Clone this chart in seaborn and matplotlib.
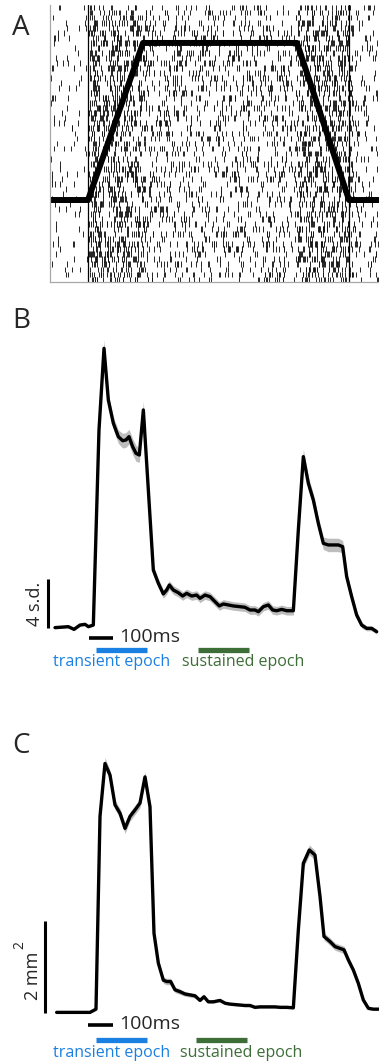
import numpy as np
import matplotlib
matplotlib.use("Agg")
import matplotlib.pyplot as plt
import seaborn as sns

# ---------------- data ----------------
# Panel B: normalized population response (s.d.) vs time (ms from motion onset)
b_time = [-137.5, -81.9, -58.3, -33.3, -12.5, 1.4, 22.2, 45.8, 66.7, 84.7,
          105.6, 126.4, 144.4, 158.3, 170.8, 186.1, 200.0, 213.9, 230.6, 251.4,
          272.2, 293.1, 313.9, 327.8, 338.9, 355.6, 376.4, 394.4, 411.1, 431.9,
          452.8, 466.7, 487.5, 508.3, 529.2, 547.2, 563.9, 584.7, 605.6, 633.3,
          654.2, 675.0, 695.8, 709.7, 730.6, 751.4, 769.4, 786.1, 806.9, 827.8,
          855.6, 876.4, 897.2, 918.1, 938.9, 959.7, 980.6, 1001.4, 1022.2, 1043.1,
          1061.1, 1077.8, 1098.6, 1119.4, 1140.3, 1161.1, 1181.9, 1202.8]
b_mean = [0.03, 0.11, -0.11, 0.24, 0.30, 0.11, 0.24, 16.16, 22.83, 18.61,
          16.71, 15.62, 15.29, 15.35, 15.62, 14.80, 14.26, 14.12, 17.80, 11.27,
          4.73, 3.65, 2.78, 3.10, 3.51, 3.10, 2.88, 2.61, 2.83, 2.61,
          2.69, 2.42, 2.69, 2.56, 2.15, 1.80, 1.96, 1.88, 1.80, 1.74,
          1.69, 1.47, 1.47, 1.33, 1.74, 1.88, 1.47, 1.41, 1.52, 1.41,
          1.41, 8.00, 13.99, 11.81, 10.45, 8.54, 6.91, 6.78, 6.78, 6.78,
          6.64, 4.19, 2.56, 1.06, 0.24, -0.03, -0.03, -0.30]
b_sem = [0.1, 0.1, 0.1, 0.1, 0.1, 0.1, 0.1, 0.5, 0.7, 0.5,
         0.5, 0.55, 0.6, 0.6, 0.6, 0.65, 0.65, 0.6, 0.7, 0.5,
         0.4, 0.35, 0.35, 0.35, 0.35, 0.35, 0.35, 0.35, 0.35, 0.35,
         0.35, 0.35, 0.35, 0.35, 0.35, 0.35, 0.35, 0.35, 0.35, 0.35,
         0.35, 0.35, 0.35, 0.35, 0.35, 0.35, 0.35, 0.35, 0.35, 0.35,
         0.35, 0.45, 0.6, 0.55, 0.5, 0.5, 0.5, 0.55, 0.55, 0.55,
         0.5, 0.4, 0.35, 0.3, 0.25, 0.2, 0.2, 0.2]

# Panel C: response area (mm^2) vs time (ms)
c_time = [-130.6, 8.3, 33.3, 50.0, 70.8, 91.7, 112.5, 133.3, 154.2, 175.0,
          195.8, 216.7, 237.5, 258.3, 275.0, 293.1, 313.9, 327.8, 344.4, 362.5,
          383.3, 404.2, 425.0, 445.8, 466.7, 483.3, 501.4, 522.2, 550.0, 570.8,
          591.7, 612.5, 633.3, 654.2, 675.0, 695.8, 716.7, 737.5, 758.3, 779.2,
          800.0, 827.8, 855.6, 876.4, 897.2, 922.2, 945.8, 966.7, 983.3, 1008.3,
          1029.2, 1050.0, 1066.7, 1084.7, 1105.6, 1126.4, 1147.2, 1168.1, 1188.9, 1212.5]
c_mean = [0.02, 0.02, 0.09, 4.28, 5.43, 5.18, 4.53, 4.35, 4.02, 4.28,
          4.42, 4.57, 5.14, 4.49, 1.74, 1.09, 0.72, 0.69, 0.69, 0.51,
          0.47, 0.42, 0.40, 0.38, 0.28, 0.36, 0.25, 0.25, 0.28, 0.22,
          0.20, 0.19, 0.18, 0.17, 0.17, 0.13, 0.14, 0.14, 0.14, 0.14,
          0.13, 0.13, 0.12, 1.81, 3.26, 3.55, 3.44, 2.54, 1.67, 1.56,
          1.45, 1.41, 1.38, 1.16, 0.94, 0.65, 0.29, 0.11, 0.09, 0.09]
c_sem = [0.02, 0.02, 0.02, 0.10, 0.13, 0.10, 0.10, 0.10, 0.11, 0.10,
         0.10, 0.10, 0.11, 0.10, 0.07, 0.07, 0.07, 0.07, 0.07, 0.06,
         0.06, 0.05, 0.05, 0.05, 0.03, 0.03, 0.03, 0.03, 0.03, 0.03,
         0.03, 0.03, 0.03, 0.03, 0.03, 0.03, 0.03, 0.03, 0.03, 0.03,
         0.03, 0.03, 0.03, 0.08, 0.10, 0.11, 0.10, 0.09, 0.08, 0.08,
         0.08, 0.08, 0.08, 0.08, 0.07, 0.07, 0.06, 0.04, 0.03, 0.02]

# Panel A: stimulus profile and spike-density profile of the raster
stim_time = [-158.3, 0.0, 229.2, 870.8, 1087.5, 1212.5]
stim_level = [0, 0, 1, 1, 0, 0]
event_times = [0.0, 1087.5]
rate_time = [-158.3, 0.0, 8.0, 230.0, 250.0, 600.0, 870.0, 885.0, 1090.0, 1110.0, 1212.5]
rate_hz = [10, 10, 88, 80, 44, 38, 40, 88, 88, 30, 30]
n_trials = 55

transient_epoch = (33, 246)
sustained_epoch_b = (458, 671)
sustained_epoch_c = (450, 662)
scale_ms = 100
scale_sd = 4
scale_mm2 = 2

# ---------------- style ----------------
sns.set_theme(style="white")
plt.rcParams["font.family"] = ["Open Sans", "DejaVu Sans"]

W, H = 379, 1063
fig = plt.figure(figsize=(W / 100, H / 100), dpi=100)
fig.patch.set_facecolor("white")


def ax_px(x0, y0, x1, y1):
    return fig.add_axes([x0 / W, 1 - y1 / H, (x1 - x0) / W, (y1 - y0) / H])


PXMS = 0.24      # pixels per ms
T0PX = 88        # pixel of t = 0
XLIM = (-T0PX / PXMS, (W - T0PX) / PXMS)

BLUE = "#1a80e2"
GREEN = "#3d6e37"
BAND = "#bdbdbd"

# ---------------- Panel A ----------------
axA = ax_px(50, 5, 379, 282)
xa0 = (50 - T0PX) / PXMS
axA.set_xlim(xa0, XLIM[1])
axA.set_ylim(0, n_trials)

# spike positions: deterministic quantile placement along the read density profile
tg = np.linspace(xa0, XLIM[1], 4000)
rate = np.interp(tg, rate_time, rate_hz)
cum = np.concatenate([[0.0], np.cumsum((rate[1:] + rate[:-1]) / 2 * np.diff(tg) / 1000.0)])
trains = []
k = np.arange(600)
for i in range(n_trials):
    u = np.mod(k * k * 0.6180339887 + k * (i * 0.4142135624 + 0.31) + i * 0.7548776662, 1.0)
    iv = -np.log(1 - 0.995 * u)
    iv = iv / iv.mean()
    pos = np.cumsum(iv) - iv[0] * np.mod(i * 0.5698402910, 1.0)
    pos = pos[pos < cum[-1]]
    trains.append(np.interp(pos, cum, tg))
axA.eventplot(trains, lineoffsets=np.arange(n_trials) + 0.5, linelengths=1.15,
              linewidths=0.65, colors="#151515")
for et in event_times:
    axA.axvline(et, color="black", lw=0.9)
low, high = 0.296 * n_trials, 0.863 * n_trials
sns.lineplot(x=stim_time, y=[low + s * (high - low) for s in stim_level], ax=axA,
             color="black", lw=4.3, estimator=None)
axA.set_xticks([])
axA.set_yticks([])
for s in ["top", "right"]:
    axA.spines[s].set_visible(False)
for s in ["left", "bottom"]:
    axA.spines[s].set_color("#a8a8a8")
    axA.spines[s].set_linewidth(0.9)

# ---------------- Panel B ----------------
axB = ax_px(0, 290, 379, 680)
axB.set_xlim(*XLIM)
axB.set_ylim((628 - 680) / 49 * 4, (628 - 290) / 49 * 4)
bm, bs = np.array(b_mean), np.array(b_sem)
axB.fill_between(b_time, bm - bs, bm + bs, color=BAND, lw=0, zorder=1)
sns.lineplot(x=b_time, y=b_mean, ax=axB, color="black", lw=2.4, estimator=None, zorder=2)
axB.axis("off")
ypx_b = lambda y: (628 - y) / 49 * 4
axB.plot([-166.7, -166.7], [0, scale_sd], color="black", lw=2.2, clip_on=False,
         solid_capstyle="butt")
axB.text(-221, scale_sd / 2, "4 s.d.", rotation=90, ha="center", va="center", fontsize=13)
axB.plot([4, 4 + scale_ms], [ypx_b(638)] * 2, color="black", lw=2.6, solid_capstyle="butt")
axB.text(129, ypx_b(637), "100ms", ha="left", va="center", fontsize=14)
axB.plot(transient_epoch, [ypx_b(650)] * 2, color=BLUE, lw=3.8, solid_capstyle="butt")
axB.plot(sustained_epoch_b, [ypx_b(650)] * 2, color=GREEN, lw=3.8, solid_capstyle="butt")
axB.text(-145.8, ypx_b(662), "transient epoch", color=BLUE, ha="left", va="center", fontsize=11.5)
axB.text(391.7, ypx_b(662), "sustained epoch", color=GREEN, ha="left", va="center", fontsize=11.5)

# ---------------- Panel C ----------------
axC = ax_px(0, 680, 379, 1063)
axC.set_xlim(*XLIM)
ypx_c = lambda y: (1013.3 - y) / 46.0
axC.set_ylim(ypx_c(1063), ypx_c(680))
cm_, cs = np.array(c_mean), np.array(c_sem)
axC.fill_between(c_time, cm_ - cs, cm_ + cs, color=BAND, lw=0, zorder=1)
sns.lineplot(x=c_time, y=c_mean, ax=axC, color="black", lw=2.4, estimator=None, zorder=2)
axC.axis("off")
axC.plot([-179, -179], [0, scale_mm2], color="black", lw=2.2, clip_on=False,
         solid_capstyle="butt")
axC.text(-229, ypx_c(976), "2 mm", rotation=90, ha="center", va="center", fontsize=13)
axC.text(-283, ypx_c(945), "2", rotation=90, ha="center", va="center", fontsize=10)
axC.plot([0, scale_ms + 4], [ypx_c(1025)] * 2, color="black", lw=2.6, solid_capstyle="butt")
axC.text(129, ypx_c(1024), "100ms", ha="left", va="center", fontsize=14)
axC.plot(transient_epoch, [ypx_c(1040)] * 2, color=BLUE, lw=3.8, solid_capstyle="butt")
axC.plot(sustained_epoch_c, [ypx_c(1040)] * 2, color=GREEN, lw=3.8, solid_capstyle="butt")
axC.text(-145.8, ypx_c(1053), "transient epoch", color=BLUE, ha="left", va="center", fontsize=11.5)
axC.text(383, ypx_c(1053), "sustained epoch", color=GREEN, ha="left", va="center", fontsize=11.5)

# ---------------- panel letters ----------------
for lab, ybase in [("A", 35), ("B", 328), ("C", 753)]:
    fig.text(12 / W, 1 - ybase / H, lab, fontsize=20, ha="left", va="baseline")

fig.savefig("out.png", dpi=100, facecolor="white")
